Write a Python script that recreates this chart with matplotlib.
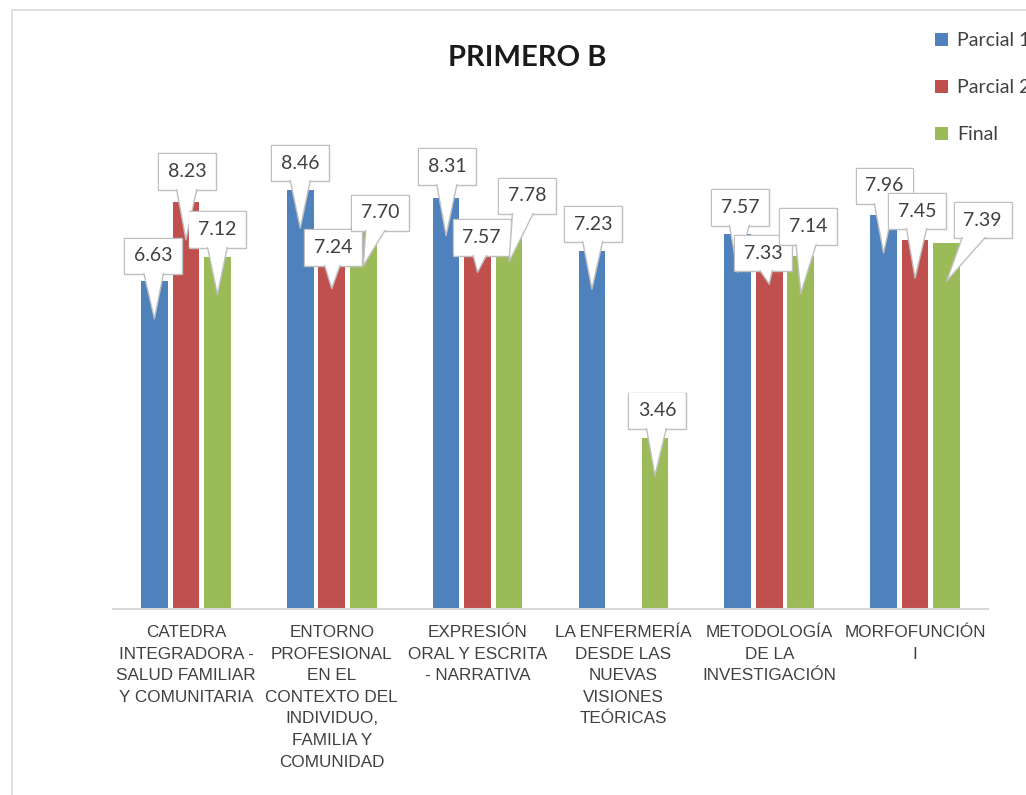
import numpy as np
import matplotlib
matplotlib.use("Agg")
import matplotlib.pyplot as plt
import matplotlib.transforms as mtransforms
from matplotlib.patches import Rectangle

# ---------------- data ----------------
title = "PRIMERO B"
categories = [
    "CATEDRA\nINTEGRADORA -\nSALUD FAMILIAR\nY COMUNITARIA",
    "ENTORNO\nPROFESIONAL\nEN EL\nCONTEXTO DEL\nINDIVIDUO,\nFAMILIA Y\nCOMUNIDAD",
    "EXPRESIÓN\nORAL Y ESCRITA\n- NARRATIVA",
    "LA ENFERMERÍA\nDESDE LAS\nNUEVAS\nVISIONES\nTEÓRICAS",
    "METODOLOGÍA\nDE LA\nINVESTIGACIÓN",
    "MORFOFUNCIÓN\nI",
]
series_names = ["Parcial 1", "Parcial 2", "Final"]
parcial1 = [6.63, 8.46, 8.31, 7.23, 7.57, 7.96]
parcial2 = [8.23, 7.24, 7.57, np.nan, 7.33, 7.45]
final = [7.12, 7.70, 7.78, 3.46, 7.14, 7.39]

# ---------------- style ----------------
colors = ["#4F81BD", "#C0504D", "#9BBB59"]
# callout text offsets (pixels, relative to bar top) per series / category
label_offsets = [
    [(-1, 25), (0, 27), (1, 31), (1, 27), (2, 27), (1, 29)],
    [(1, 30), (1, 3), (4, -3), None, (-6, -7), (2, 29)],
    [(0, 27), (17, 15), (18, 28), (2, 27), (7, 29), (36, 23)],
]
TIP_DROP = 38  # pixels below bar top where the callout points
EDGE = "#BFBFBF"
TXT = "#404040"
VAL_FS = 14

W, H = 1026, 795
fig = plt.figure(figsize=(W / 100, H / 100), dpi=100)
fig.patch.set_facecolor("white")

# outer chart frame
fig.patches.append(Rectangle((12 / W, -0.02), 1.0, 1 - 10 / H + 0.02,
                             transform=fig.transFigure, fill=False,
                             edgecolor="#D9D9D9", lw=1.2, zorder=0))

ax = fig.add_axes([113 / W, 1 - 609 / H, 875 / W, 495 / H])
ax.set_xlim(-0.5, len(categories) - 0.5)
ax.set_ylim(0, 10)
for s in ["top", "right", "left"]:
    ax.spines[s].set_visible(False)
ax.spines["bottom"].set_color("#D9D9D9")
ax.spines["bottom"].set_linewidth(1.5)
ax.set_yticks([])
ax.tick_params(axis="x", length=0, pad=11.5)

x = np.arange(len(categories))
bw = 0.183
step = 0.216
all_series = [parcial1, parcial2, final]
for i, (vals, c, name) in enumerate(zip(all_series, colors, series_names)):
    ax.bar(x + (i - 1) * step, vals, width=bw, color=c, label=name, zorder=2)

ax.set_xticks(x)
ax.set_xticklabels(categories, fontsize=12.3, color=TXT,
                   family=["Liberation Sans Narrow", "Liberation Sans", "DejaVu Sans"],
                   linespacing=1.55)

tip_trans = mtransforms.offset_copy(ax.transData, fig=fig, x=0, y=-TIP_DROP,
                                    units="dots")
z = 5
for i, vals in enumerate(all_series):
    for j, v in enumerate(vals):
        if np.isnan(v):
            continue
        dx, dy = label_offsets[i][j]
        common = dict(xy=(x[j] + (i - 1) * step, v), xycoords=tip_trans,
                      xytext=(dx, dy + TIP_DROP), textcoords="offset pixels",
                      ha="center", va="center", fontsize=VAL_FS, color=TXT,
                      family=["Lato", "DejaVu Sans"], annotation_clip=False)
        # outlined box
        ax.annotate(f"{v:.2f}", bbox=dict(boxstyle="square,pad=0.5", fc="white",
                                          ec=EDGE, lw=1), zorder=z, **common)
        # pointer + inner fill that hides the outline at the pointer base
        ax.annotate(f"{v:.2f}",
                    bbox=dict(boxstyle="square,pad=0.45", fc="white", ec="none"),
                    arrowprops=dict(arrowstyle="wedge,tail_width=1.4,shrink_factor=0.5",
                                    fc="white", ec=EDGE, lw=1,
                                    patchA=None, shrinkA=0, shrinkB=0),
                    zorder=z + 0.5, **common)
        z += 1

fig.text(527 / W, 1 - 58 / H, title, ha="center", va="center",
         fontsize=21, fontweight="bold", color="#1A1A1A",
         family=["Lato", "DejaVu Sans"])

leg = ax.legend(loc="upper left", bbox_to_anchor=(935 / W, 1 - 32 / H),
                bbox_transform=fig.transFigure, frameon=False,
                handlelength=0.65, handleheight=0.65, handletextpad=0.5,
                labelspacing=1.55, fontsize=14, borderpad=0, borderaxespad=0)
for t in leg.get_texts():
    t.set_color(TXT)
    t.set_family(["Lato", "DejaVu Sans"])

fig.savefig("out.png", dpi=100)
